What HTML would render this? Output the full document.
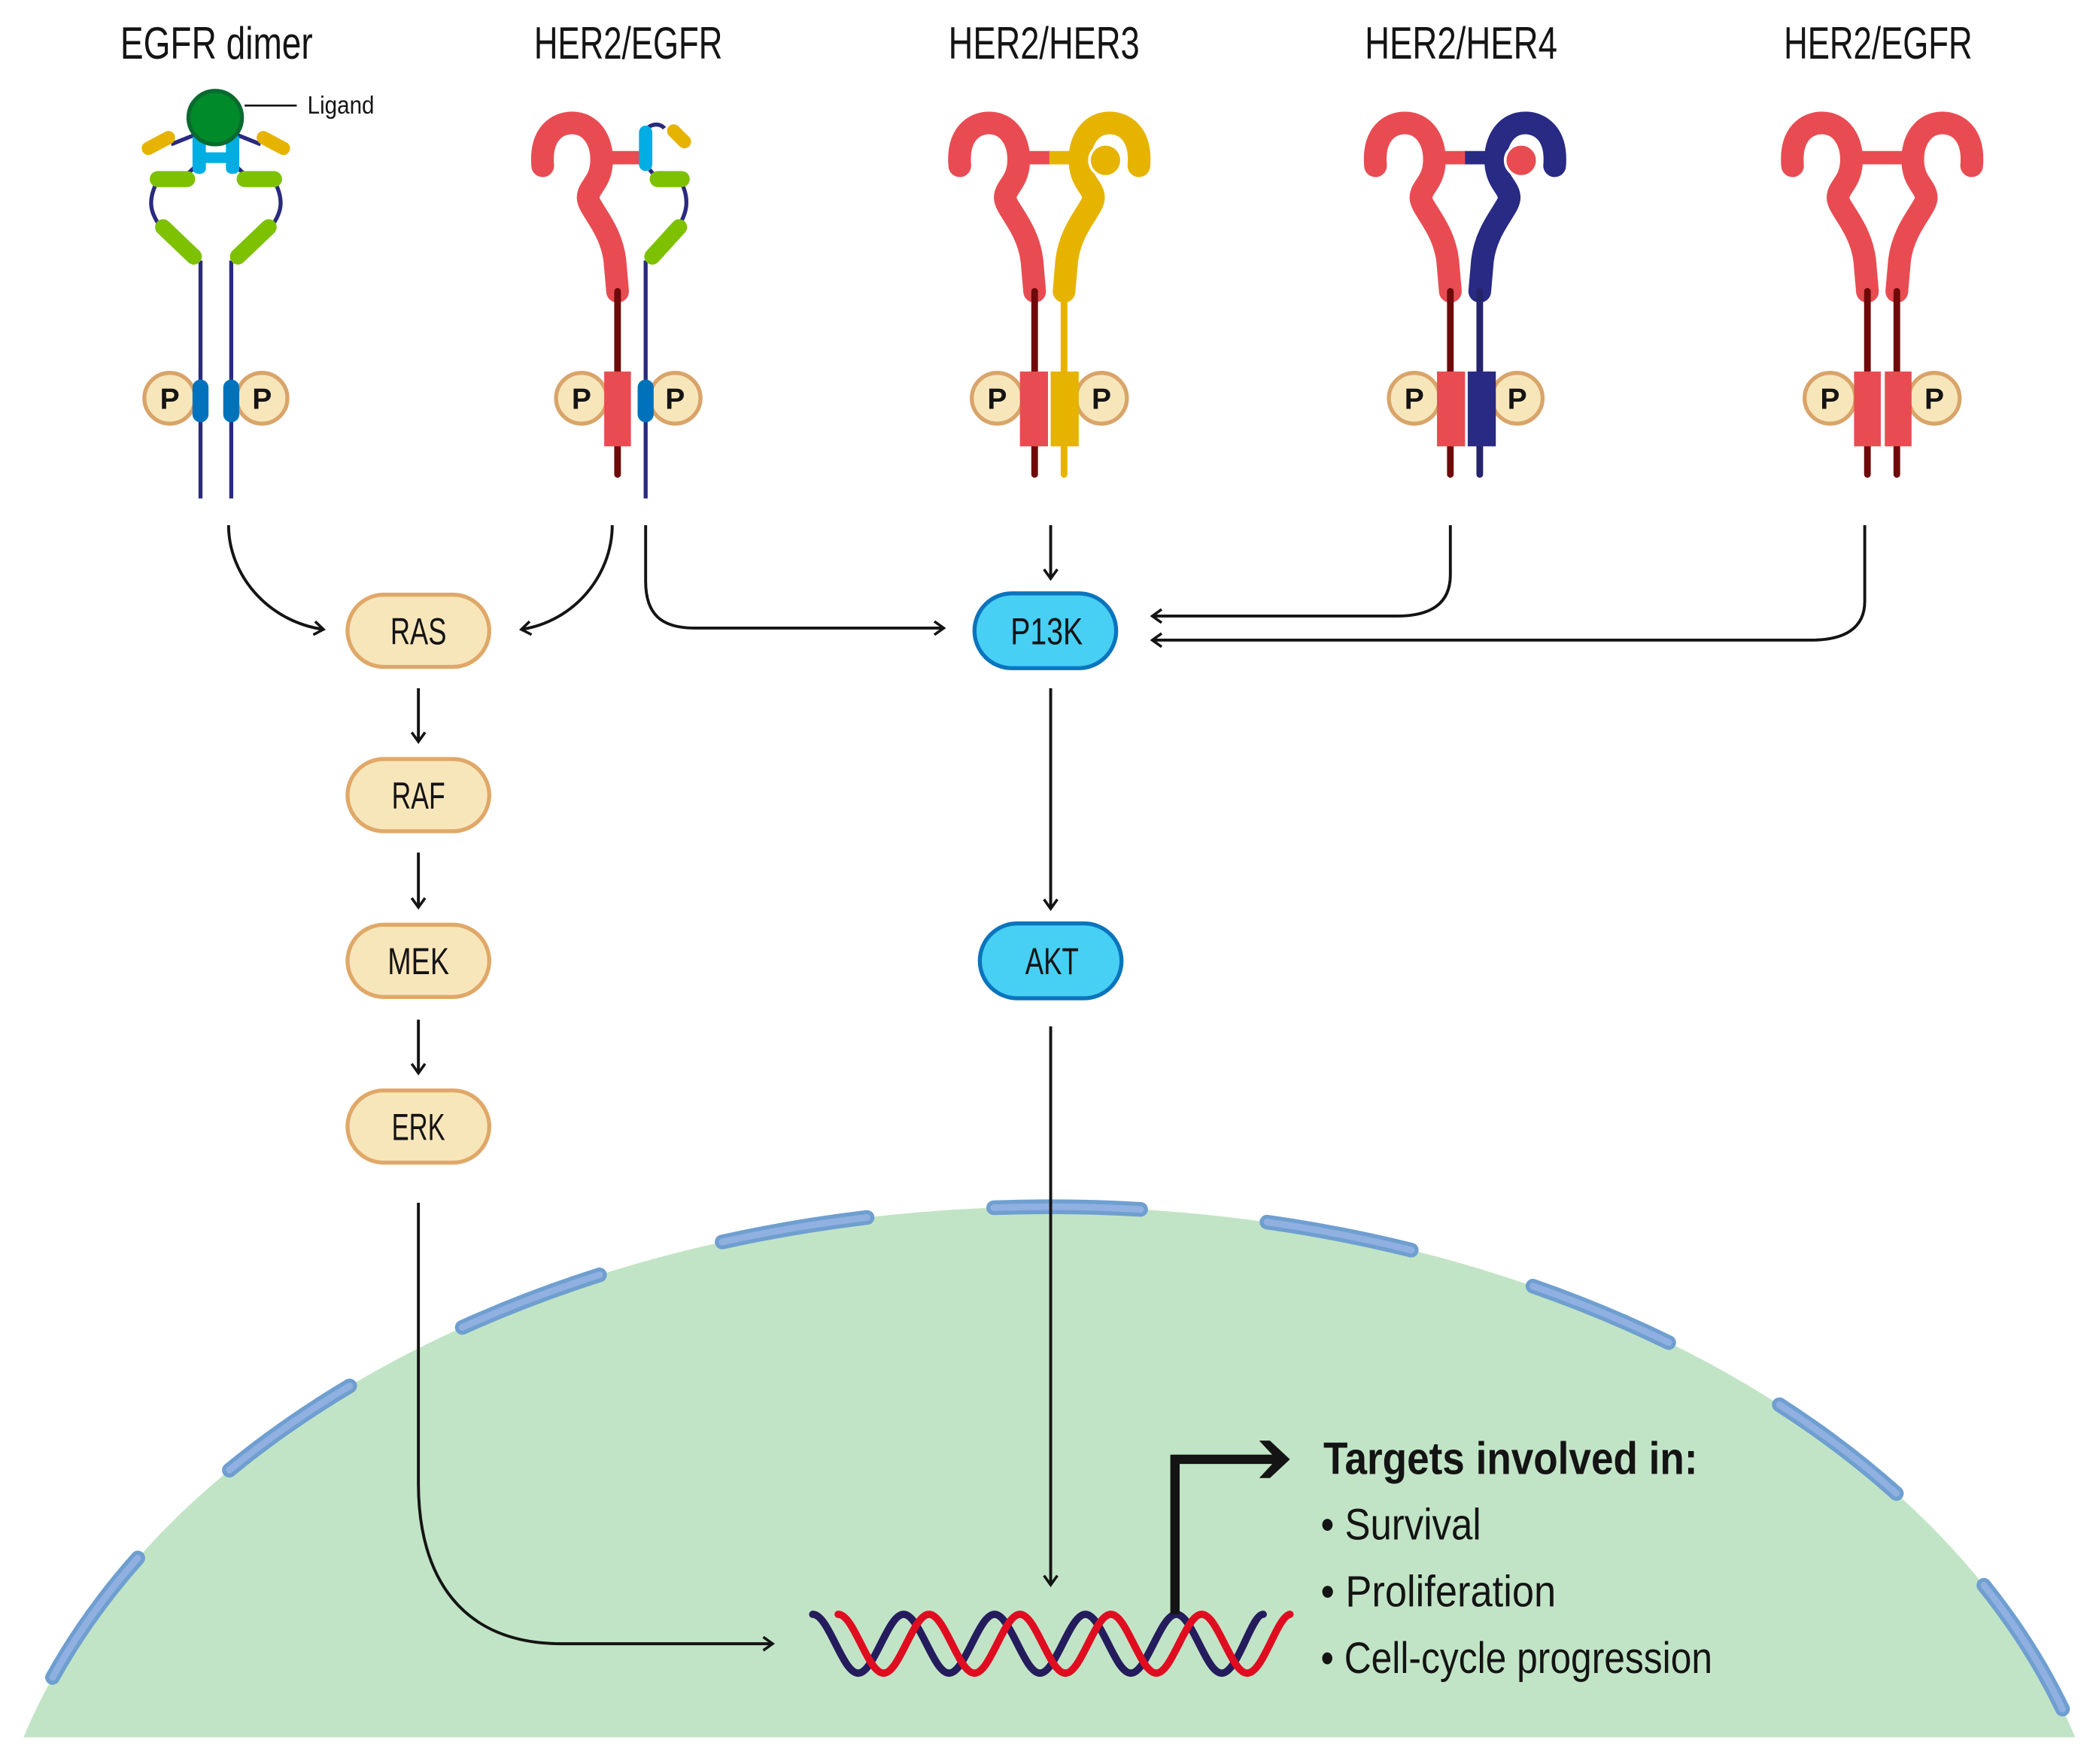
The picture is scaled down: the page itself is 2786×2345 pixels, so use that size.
<!DOCTYPE html>
<html><head><meta charset="utf-8"><style>
html,body{margin:0;padding:0;background:#fff;width:2786px;height:2345px;overflow:hidden}
svg{display:block}
text{font-family:"Liberation Sans",sans-serif}
</style></head><body>
<svg width="2786" height="2345" viewBox="0 0 1568 1320" preserveAspectRatio="none" xmlns="http://www.w3.org/2000/svg">
<defs>
<path id="hook" d="M-56,124 C-58,100 -45,92 -34,92 C-20,92 -11,105 -12,122 C-13,137 -22,140 -22,148 C-22,156 -5,170 -2,195 L0,218" fill="none" stroke-width="17" stroke-linecap="round" stroke-linejoin="round"/>
<marker id="ah" markerWidth="12" markerHeight="12" refX="9" refY="6" orient="auto" markerUnits="userSpaceOnUse">
<path d="M2,1 L9,6 L2,11" fill="none" stroke="#141414" stroke-width="2"/>
</marker>
<clipPath id="cl"><rect x="0" y="0" width="1568" height="1300"/></clipPath>
</defs>

<!-- nucleus -->
<g clip-path="url(#cl)">
<ellipse cx="785" cy="1450" rx="798" ry="547" fill="#c2e4c6"/>
<ellipse cx="785" cy="1450" rx="798" ry="547" fill="none" stroke="#6f9fd0" stroke-width="11" stroke-linecap="round" stroke-dasharray="110 95" stroke-dashoffset="125"/>
<ellipse cx="785" cy="1450" rx="798" ry="547" fill="none" stroke="#8fb0e0" stroke-width="5" stroke-linecap="round" stroke-dasharray="110 95" stroke-dashoffset="125"/>
</g>

<!-- titles -->
<g font-size="34" fill="#141414" text-anchor="middle">
<text x="162" y="44" textLength="144" lengthAdjust="spacingAndGlyphs">EGFR dimer</text>
<text x="470" y="44" textLength="141" lengthAdjust="spacingAndGlyphs">HER2/EGFR</text>
<text x="781" y="44" textLength="143" lengthAdjust="spacingAndGlyphs">HER2/HER3</text>
<text x="1093" y="44" textLength="144" lengthAdjust="spacingAndGlyphs">HER2/HER4</text>
<text x="1405" y="44" textLength="141" lengthAdjust="spacingAndGlyphs">HER2/EGFR</text>
</g>

<!-- EGFR dimer -->
<g>
<line x1="150" y1="195" x2="150" y2="373" stroke="#2a2a80" stroke-width="3"/>
<line x1="173" y1="195" x2="173" y2="373" stroke="#2a2a80" stroke-width="3"/>
<path d="M118,135 C110,150 112,160 122,172 M205,135 C213,150 211,160 201,172" fill="none" stroke="#2a2a80" stroke-width="3"/>
<path d="M148,123 L135,135 M175,123 L188,135 M148,100 L128,108 M175,100 L195,108" stroke="#2a2a80" stroke-width="3"/>
<line x1="118" y1="134" x2="140" y2="134" stroke="#7dc100" stroke-width="12" stroke-linecap="round"/>
<line x1="183" y1="134" x2="205" y2="134" stroke="#7dc100" stroke-width="12" stroke-linecap="round"/>
<line x1="122" y1="170" x2="145" y2="192" stroke="#7dc100" stroke-width="12" stroke-linecap="round"/>
<line x1="201" y1="170" x2="178" y2="192" stroke="#7dc100" stroke-width="12" stroke-linecap="round"/>
<line x1="111" y1="111" x2="126" y2="103" stroke="#e6b400" stroke-width="10" stroke-linecap="round"/>
<line x1="197" y1="103" x2="212" y2="111" stroke="#e6b400" stroke-width="10" stroke-linecap="round"/>
<rect x="144" y="100" width="10" height="30" rx="4" fill="#00aee4"/>
<rect x="169" y="100" width="10" height="30" rx="4" fill="#00aee4"/>
<rect x="150" y="114" width="24" height="8" fill="#00aee4"/>
<circle cx="161" cy="88" r="20" fill="#008a2a" stroke="#0a6a30" stroke-width="3"/>
<line x1="183" y1="79" x2="222" y2="79" stroke="#141414" stroke-width="1.5"/>
<text x="230" y="85" font-size="19" fill="#141414" textLength="50" lengthAdjust="spacingAndGlyphs">Ligand</text>
<ellipse cx="127" cy="298" rx="19" ry="19" fill="#f8e6bb" stroke="#d9a46a" stroke-width="3"/>
<ellipse cx="196" cy="298" rx="19" ry="19" fill="#f8e6bb" stroke="#d9a46a" stroke-width="3"/>
<rect x="144" y="284" width="12" height="32" rx="6" fill="#0072bb"/>
<rect x="167" y="284" width="12" height="32" rx="6" fill="#0072bb"/>
</g>

<!-- HER2/EGFR (2) -->
<g>
<use href="#hook" transform="translate(462,0)" stroke="#e84c52"/>
<line x1="462" y1="218" x2="462" y2="355" stroke="#6e0a0a" stroke-width="5" stroke-linecap="round"/>
<rect x="452" y="113" width="28" height="10" fill="#e84c52"/>
<line x1="483" y1="195" x2="483" y2="373" stroke="#2a2a80" stroke-width="3"/>
<path d="M483,98 C486,92 494,92 497,96 M486,127 L492,134 M510,137 C516,150 514,160 506,172" fill="none" stroke="#2a2a80" stroke-width="3"/>
<rect x="478" y="94" width="10" height="34" rx="5" fill="#00aee4"/>
<line x1="504" y1="98" x2="512" y2="106" stroke="#e6b400" stroke-width="10" stroke-linecap="round"/>
<line x1="492" y1="134" x2="510" y2="134" stroke="#7dc100" stroke-width="12" stroke-linecap="round"/>
<line x1="508" y1="170" x2="488" y2="192" stroke="#7dc100" stroke-width="12" stroke-linecap="round"/>
<ellipse cx="435" cy="298" rx="19" ry="19" fill="#f8e6bb" stroke="#d9a46a" stroke-width="3"/>
<ellipse cx="505" cy="298" rx="19" ry="19" fill="#f8e6bb" stroke="#d9a46a" stroke-width="3"/>
<rect x="452" y="278" width="20" height="56" fill="#e84c52"/>
<rect x="477" y="284" width="12" height="32" rx="6" fill="#0072bb"/>
</g>

<!-- HER2/HER3 -->
<g>
<rect x="762" y="113" width="24" height="10" fill="#e84c52"/>
<rect x="785" y="113" width="23" height="10" fill="#e6b400"/>
<use href="#hook" transform="translate(774,0)" stroke="#e84c52"/>
<use href="#hook" transform="translate(796,0) scale(-1,1)" stroke="#e6b400"/>
<circle cx="827" cy="120" r="12" fill="#e6b400" stroke="#fff" stroke-width="2"/>
<line x1="774" y1="218" x2="774" y2="355" stroke="#6e0a0a" stroke-width="5" stroke-linecap="round"/>
<line x1="796" y1="218" x2="796" y2="355" stroke="#e6b400" stroke-width="5" stroke-linecap="round"/>
<ellipse cx="746" cy="298" rx="19" ry="19" fill="#f8e6bb" stroke="#d9a46a" stroke-width="3"/>
<ellipse cx="824" cy="298" rx="19" ry="19" fill="#f8e6bb" stroke="#d9a46a" stroke-width="3"/>
<rect x="763" y="278" width="21" height="56" fill="#e84c52"/>
<rect x="786" y="278" width="21" height="56" fill="#e6b400"/>
</g>

<!-- HER2/HER4 -->
<g>
<rect x="1073" y="113" width="24" height="10" fill="#e84c52"/>
<rect x="1096" y="113" width="23" height="10" fill="#282a84"/>
<use href="#hook" transform="translate(1085,0)" stroke="#e84c52"/>
<use href="#hook" transform="translate(1107,0) scale(-1,1)" stroke="#282a84"/>
<circle cx="1138" cy="120" r="12" fill="#e84c52" stroke="#fff" stroke-width="2"/>
<line x1="1085" y1="218" x2="1085" y2="355" stroke="#6e0a0a" stroke-width="5" stroke-linecap="round"/>
<line x1="1107" y1="218" x2="1107" y2="355" stroke="#24246a" stroke-width="5" stroke-linecap="round"/>
<ellipse cx="1058" cy="298" rx="19" ry="19" fill="#f8e6bb" stroke="#d9a46a" stroke-width="3"/>
<ellipse cx="1135" cy="298" rx="19" ry="19" fill="#f8e6bb" stroke="#d9a46a" stroke-width="3"/>
<rect x="1075" y="278" width="21" height="56" fill="#e84c52"/>
<rect x="1098" y="278" width="21" height="56" fill="#282a84"/>
</g>

<!-- HER2/EGFR (5) -->
<g>
<rect x="1385" y="113" width="46" height="10" fill="#e84c52"/>
<use href="#hook" transform="translate(1397,0)" stroke="#e84c52"/>
<use href="#hook" transform="translate(1419,0) scale(-1,1)" stroke="#e84c52"/>
<line x1="1397" y1="218" x2="1397" y2="355" stroke="#6e0a0a" stroke-width="5" stroke-linecap="round"/>
<line x1="1419" y1="218" x2="1419" y2="355" stroke="#6e0a0a" stroke-width="5" stroke-linecap="round"/>
<ellipse cx="1369" cy="298" rx="19" ry="19" fill="#f8e6bb" stroke="#d9a46a" stroke-width="3"/>
<ellipse cx="1447" cy="298" rx="19" ry="19" fill="#f8e6bb" stroke="#d9a46a" stroke-width="3"/>
<rect x="1387" y="278" width="20" height="56" fill="#e84c52"/>
<rect x="1410" y="278" width="20" height="56" fill="#e84c52"/>
</g>

<!-- P letters -->
<g font-size="22" font-weight="bold" fill="#141414" text-anchor="middle">
<text x="127" y="306">P</text><text x="196" y="306">P</text>
<text x="435" y="306">P</text><text x="505" y="306">P</text>
<text x="746" y="306">P</text><text x="824" y="306">P</text>
<text x="1058" y="306">P</text><text x="1135" y="306">P</text>
<text x="1369" y="306">P</text><text x="1447" y="306">P</text>
</g>

<!-- connectors -->
<g fill="none" stroke="#141414" stroke-width="2.2" marker-end="url(#ah)">
<path d="M171,393 C171,430 200,465 242,471"/>
<path d="M458,393 C458,430 430,465 390,471"/>
<path d="M483,393 L483,435 C483,460 495,470 520,470 L706,470"/>
<path d="M786,393 L786,433"/>
<path d="M1085,393 L1085,430 C1085,452 1070,461 1045,461 L862,461"/>
<path d="M1395,393 L1395,450 C1395,470 1380,479 1355,479 L862,479"/>
<path d="M313,515 L313,555"/>
<path d="M313,638 L313,679"/>
<path d="M313,763 L313,803"/>
<path d="M786,515 L786,680"/>
<path d="M786,768 L786,1186"/>
<path d="M313,900 L313,1110 C313,1180 345,1230 420,1230 L578,1230"/>
</g>

<!-- nodes -->
<g stroke-width="3">
<rect x="260" y="445" width="106" height="54" rx="27" fill="#f8e6bb" stroke="#e0a868"/>
<rect x="260" y="568" width="106" height="54" rx="27" fill="#f8e6bb" stroke="#e0a868"/>
<rect x="260" y="692" width="106" height="54" rx="27" fill="#f8e6bb" stroke="#e0a868"/>
<rect x="260" y="816" width="106" height="54" rx="27" fill="#f8e6bb" stroke="#e0a868"/>
<rect x="729" y="444" width="106" height="56" rx="28" fill="#47cff4" stroke="#0a74bd"/>
<rect x="733" y="691" width="106" height="56" rx="28" fill="#47cff4" stroke="#0a74bd"/>
</g>
<g font-size="28" fill="#141414" text-anchor="middle">
<text x="313" y="482" textLength="42" lengthAdjust="spacingAndGlyphs">RAS</text>
<text x="313" y="605" textLength="40" lengthAdjust="spacingAndGlyphs">RAF</text>
<text x="313" y="729" textLength="46" lengthAdjust="spacingAndGlyphs">MEK</text>
<text x="313" y="853" textLength="40" lengthAdjust="spacingAndGlyphs">ERK</text>
<text x="783" y="482" textLength="54" lengthAdjust="spacingAndGlyphs">P13K</text>
<text x="787" y="729" textLength="40" lengthAdjust="spacingAndGlyphs">AKT</text>
</g>

<!-- DNA -->
<path d="M608,1208 C620,1208 630,1252 642,1252 S664,1208 676,1208 S698,1252 710,1252 S732,1208 744,1208 S766,1252 778,1252 S800,1208 812,1208 S834,1252 846,1252 S868,1208 880,1208 S902,1252 914,1252 S936,1208 945,1208" fill="none" stroke="#241c5c" stroke-width="5.5" stroke-linecap="round"/>
<path d="M627,1208 C639,1208 649,1252 661,1252 S683,1208 695,1208 S717,1252 729,1252 S751,1208 763,1208 S785,1252 797,1252 S819,1208 831,1208 S853,1252 865,1252 S887,1208 899,1208 S921,1252 933,1252 S955,1210 965,1208" fill="none" stroke="#e00c20" stroke-width="5.5" stroke-linecap="round"/>

<!-- promoter arrow -->
<path d="M879,1208 L879,1092 L955,1092" fill="none" stroke="#141414" stroke-width="7"/>
<path d="M942,1078 L950,1078 L965,1092 L950,1106 L942,1106 L955,1092 Z" fill="#141414"/>

<text x="990" y="1103" font-size="34" font-weight="bold" fill="#141414" textLength="280" lengthAdjust="spacingAndGlyphs">Targets involved in:</text>
<g font-size="33" fill="#141414">
<text x="988" y="1152" textLength="120" lengthAdjust="spacingAndGlyphs">• Survival</text>
<text x="988" y="1202" textLength="176" lengthAdjust="spacingAndGlyphs">• Proliferation</text>
<text x="988" y="1252" textLength="293" lengthAdjust="spacingAndGlyphs">• Cell-cycle progression</text>
</g>
</svg>
</body></html>
